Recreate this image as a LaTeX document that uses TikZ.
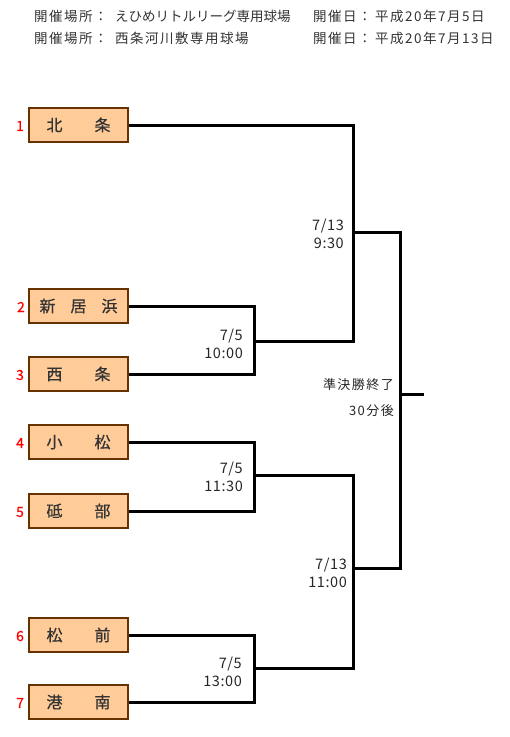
\documentclass[tikz,border=0pt]{standalone}
\usepackage{fontspec}
\setmainfont{Noto Sans CJK JP}
\newfontfamily\spacedfont[LetterSpace=11]{Noto Sans CJK JP}
\newfontfamily\timefont[LetterSpace=4]{Noto Sans CJK JP}
\newfontfamily\boldishfont[FakeBold=0.6]{Noto Sans CJK JP}
\definecolor{boxfill}{HTML}{FFCC99}
\definecolor{boxdraw}{HTML}{663300}
\definecolor{txt}{HTML}{333333}
\definecolor{numred}{HTML}{FF0000}
\tikzset{
  team/.style={draw=boxdraw, fill=boxfill, line width=1.2pt, minimum width=99pt, minimum height=34pt, inner sep=0pt, text=txt, font=\boldishfont\fontsize{16}{16}\selectfont},
  seed/.style={text=numred, font=\boldishfont\fontsize{14}{14}\selectfont, inner sep=0pt},
  wire/.style={line width=3pt, black},
  when/.style={anchor=east, align=right, inner sep=0pt, text=black!85, font=\timefont\fontsize{14.5}{18}\selectfont},
  whenk/.style={anchor=east, align=right, inner sep=0pt, text=black!85, font=\spacedfont\fontsize{13}{18}\selectfont},
  head/.style={anchor=west, inner sep=0pt, text=txt, font=\spacedfont\fontsize{13.5}{14}\selectfont},
  headk/.style={anchor=west, inner sep=0pt, text=txt, font=\fontsize{13.5}{14}\selectfont},
}
\newcommand{\twoch}[2]{#1\hspace{32pt}#2}
\newcommand{\threech}[3]{#1\hspace{15pt}#2\hspace{15pt}#3}
\begin{document}
\begin{tikzpicture}[x=1pt,y=-1pt]
\useasboundingbox (0,0) rectangle (510,737);
% header
\node[head] (h1) at (34,16) {開催場所：};
\node[headk] (h2) at (115,16) {えひめリトルリーグ専用球場};
\node[head] (h3) at (313,16) {開催日：};
\node[head] (h4) at (375,16) {平成20年7月5日};
\node[head] (h5) at (34,38) {開催場所：};
\node[head] (h6) at (115,38) {西条河川敷専用球場};
\node[head] (h7) at (313,38) {開催日：};
\node[head] (h8) at (375,38) {平成20年7月13日};
% teams
\node[team] (t1) at (78.5,125) {\twoch{北}{条}};
\node[team] (t2) at (78.5,306) {\threech{新}{居}{浜}};
\node[team] (t3) at (78.5,374) {\twoch{西}{条}};
\node[team] (t4) at (78.5,442) {\twoch{小}{松}};
\node[team] (t5) at (78.5,511) {\twoch{砥}{部}};
\node[team] (t6) at (78.5,635) {\twoch{松}{前}};
\node[team] (t7) at (78.5,702) {\twoch{港}{南}};
% seeds
\node[seed] (n1) at (20,126) {1};
\node[seed] (n2) at (21,307) {2};
\node[seed] (n3) at (20,375) {3};
\node[seed] (n4) at (20,443) {4};
\node[seed] (n5) at (20,512) {5};
\node[seed] (n6) at (20,636) {6};
\node[seed] (n7) at (20,703) {7};
% junctions
\coordinate (j23) at (254,341);
\coordinate (j45) at (254,475);
\coordinate (j67) at (254,668);
\coordinate (s1) at (353,341);
\coordinate (s1o) at (353,232);
\coordinate (s2a) at (353,475);
\coordinate (s2b) at (353,668);
\coordinate (s2o) at (353,568);
\coordinate (f1) at (400,232);
\coordinate (f2) at (400,568);
\coordinate (fo) at (400,394);
\coordinate (fe) at (424,394);
% wires
\draw[wire] (t2.east) -| (j23) |- (t3.east);
\draw[wire] (t4.east) -| (j45) |- (t5.east);
\draw[wire] (t6.east) -| (j67) |- (t7.east);
\draw[wire] (t1.east) -| (s1) -- (j23);
\draw[wire] (j45) -- (s2a) -- (s2b) -- (j67);
\draw[wire] (s1o) -- (f1) -- (f2) -- (s2o);
\draw[wire] (fo) -- (fe);
% times
\node[when] (w1) at (344,234) {7/13\\9:30};
\node[when] (w2) at (243,344) {7/5\\10:00};
\node[when] (w3) at (243,477) {7/5\\11:30};
\node[when] (w4) at (347,573) {7/13\\11:00};
\node[when] (w5) at (242,672) {7/5\\13:00};
\node[whenk] (w6) at (394,385) {準決勝終了};
\node[whenk] (w7) at (394,411) {30分後};
\end{tikzpicture}
\end{document}
